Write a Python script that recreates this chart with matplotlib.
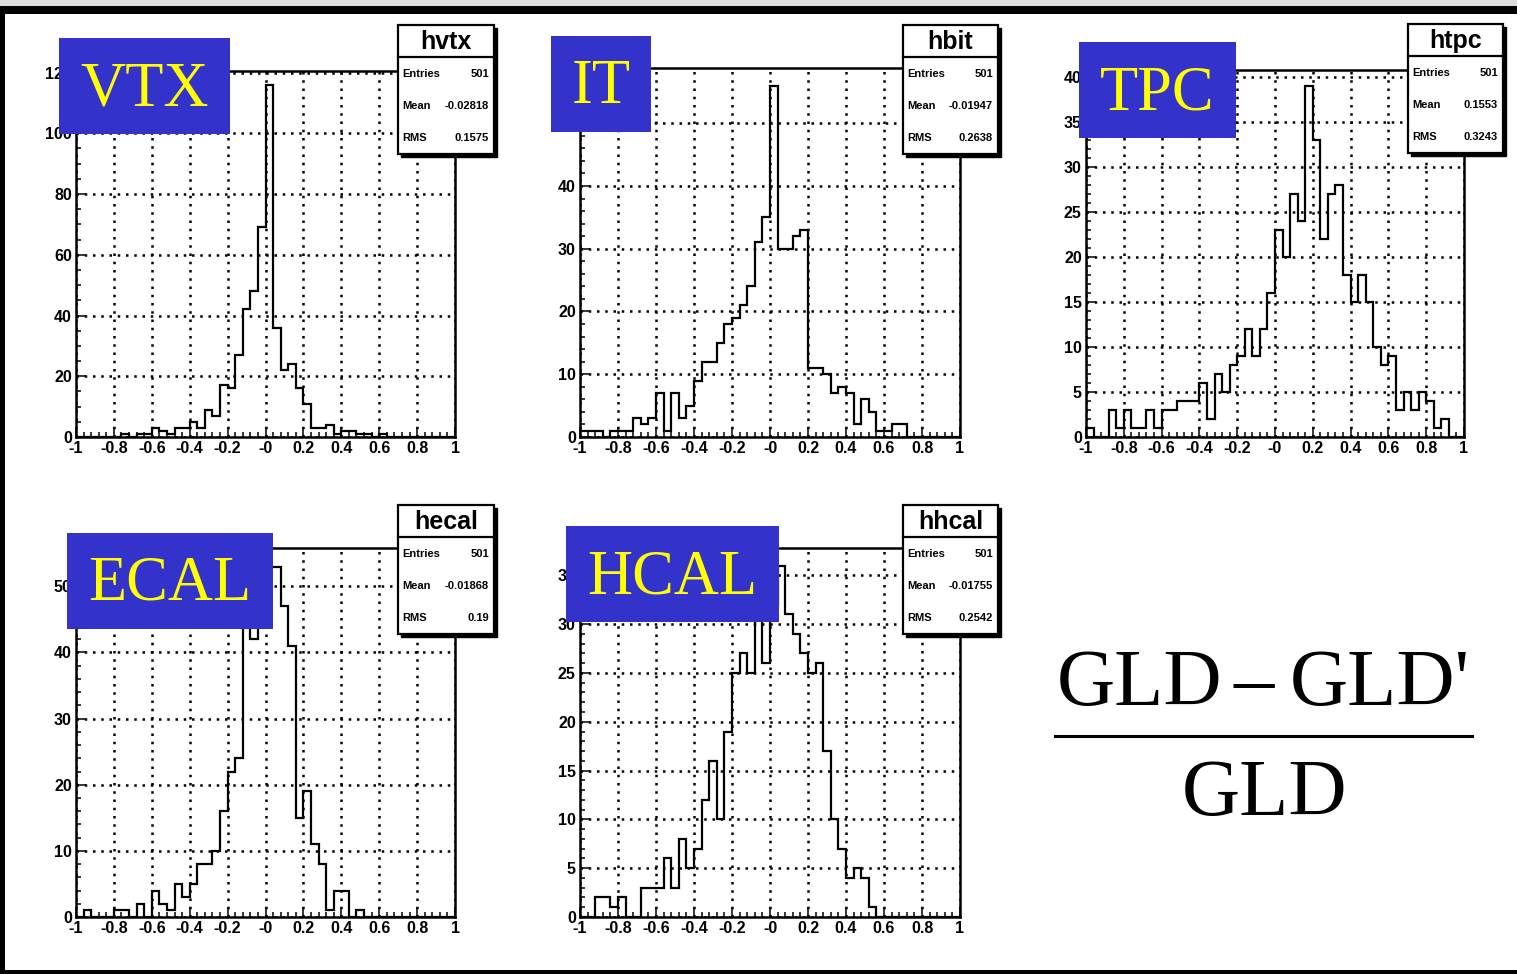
import matplotlib.pyplot as plt
from matplotlib.patches import Rectangle
from matplotlib.lines import Line2D
from matplotlib.ticker import MultipleLocator
import numpy as np

# histogram binning (ROOT TH1F, 50 bins on [-1, 1])
x_min, x_max, n_bins = -1.0, 1.0, 50

# bin contents
vtx = [0, 0, 0, 0, 0, 0, 1, 0, 1, 1, 3, 2, 1, 3, 3, 5, 3, 9, 7, 17,
       16, 27, 42, 48, 69, 116, 36, 22, 24, 16, 11, 3, 3, 4, 1, 2, 2, 1, 1, 0,
       1, 0, 0, 0, 0, 0, 0, 0, 0, 0]
it = [1, 1, 1, 0, 1, 1, 1, 3, 2, 3, 7, 1, 7, 3, 5, 9, 12, 12, 15, 18,
      19, 21, 24, 31, 35, 56, 30, 30, 32, 33, 11, 11, 10, 7, 8, 7, 2, 6, 4, 1,
      1, 2, 2, 0, 0, 0, 0, 0, 0, 0]
tpc = [1, 0, 0, 3, 1, 3, 1, 1, 3, 1, 3, 3, 4, 4, 4, 6, 2, 7, 5, 8,
       9, 12, 9, 12, 16, 23, 20, 27, 24, 39, 33, 22, 27, 28, 18, 15, 18, 15, 10, 8,
       9, 3, 5, 3, 5, 4, 1, 2, 0, 0]
ecal = [0, 1, 0, 0, 0, 1, 1, 0, 2, 0, 4, 2, 1, 5, 3, 5, 8, 8, 10, 16,
        22, 24, 47, 42, 45, 53, 53, 47, 41, 15, 19, 11, 8, 1, 4, 4, 0, 1, 0, 0,
        0, 0, 0, 0, 0, 0, 0, 0, 0, 0]
hcal = [0, 0, 2, 2, 1, 2, 0, 0, 3, 3, 3, 6, 3, 8, 5, 7, 12, 16, 10, 19,
        25, 27, 25, 33, 26, 32, 36, 31, 29, 27, 25, 26, 17, 10, 7, 4, 5, 4, 1, 0,
        0, 0, 0, 0, 0, 0, 0, 0, 0, 0]

hist_names = ['hvtx', 'hbit', 'htpc', 'hecal', 'hhcal']
detectors = ['VTX', 'IT', 'TPC', 'ECAL', 'HCAL']
entries = [501, 501, 501, 501, 501]
means = ['-0.02818', '-0.01947', '0.1553', '-0.01868', '-0.01755']
rmss = ['0.1575', '0.2638', '0.3243', '0.19', '0.2542']
y_max = [120.5, 58.8, 40.8, 55.8, 37.8]
y_major = [20, 10, 5, 10, 5]
y_minor = [5, 2, 1, 2, 1]
x_ticks = [-1, -0.8, -0.6, -0.4, -0.2, 0, 0.2, 0.4, 0.6, 0.8, 1]
x_labels = ['-1', '-0.8', '-0.6', '-0.4', '-0.2', '-0', '0.2', '0.4', '0.6', '0.8', '1']

W, H = 1517, 974
fig = plt.figure(figsize=(W / 100, H / 100), dpi=100)
fig.patch.set_facecolor('white')


def fx(x):
    return x / W


def fy(y):
    return 1 - y / H


# pixel boxes (left, top, right, bottom)
frames = [(76, 71, 455, 437), (580, 68, 960, 437), (1086, 70, 1464, 437),
          (76, 548, 455, 917), (580, 548, 960, 917)]
stat_boxes = [(398, 25, 494, 154), (903, 25, 998, 154), (1408, 24, 1503, 153),
              (398, 505, 494, 634), (903, 505, 998, 634)]
label_boxes = [(59, 38, 230, 134), (551, 36, 651, 132), (1079, 42, 1236, 138),
               (67, 533, 273, 629), (566, 526, 779, 622)]

edges = np.linspace(x_min, x_max, n_bins + 1)
tick_font = dict(family='Liberation Sans', weight='bold', size=11.5)

for i, counts in enumerate([vtx, it, tpc, ecal, hcal]):
    l, t, r, b = frames[i]
    ax = fig.add_axes([fx(l), fy(b), fx(r - l), (b - t) / H])
    ax.stairs(counts, edges, color='black', lw=1.6, baseline=None)
    ax.set_xlim(x_min, x_max)
    ax.set_ylim(0, y_max[i])
    ax.set_xticks(x_ticks)
    ax.set_xticklabels(x_labels, fontdict=tick_font)
    yt = np.arange(0, y_max[i] + 0.01, y_major[i])
    ax.set_yticks(yt)
    ax.set_yticklabels([f'{v:g}' for v in yt], fontdict=tick_font)
    ax.xaxis.set_minor_locator(MultipleLocator(0.04))
    ax.yaxis.set_minor_locator(MultipleLocator(y_minor[i]))
    ax.tick_params(which='both', direction='in', top=False, right=False,
                   width=1.1, color='black')
    ax.tick_params(which='major', length=7.5, pad=3)
    ax.tick_params(which='minor', length=3.8)
    ax.grid(True, which='major', color='black', linestyle=(0, (1, 2.3)), lw=1.8)
    ax.set_axisbelow(True)
    for s in ax.spines.values():
        s.set_linewidth(1.8)

    # ROOT stat box with shadow
    sl, st, sr, sb = stat_boxes[i]
    fig.add_artist(Rectangle((fx(sl + 3), fy(sb + 3)), fx(sr - sl), (sb - st) / H,
                             transform=fig.transFigure, facecolor='black',
                             edgecolor='black', zorder=4))
    fig.add_artist(Rectangle((fx(sl), fy(sb)), fx(sr - sl), (sb - st) / H,
                             transform=fig.transFigure, facecolor='white',
                             edgecolor='black', lw=1.6, zorder=5))
    fig.add_artist(Line2D([fx(sl), fx(sr)], [fy(st + 32)] * 2, color='black',
                          lw=1.6, transform=fig.transFigure, zorder=6))
    fig.text(fx((sl + sr) / 2), fy(st + 17), hist_names[i], ha='center', va='center',
             family='Liberation Sans', weight='bold', size=18, zorder=7)
    rows = [('Entries', str(entries[i])), ('Mean', means[i]), ('RMS', rmss[i])]
    for k, (lab, val) in enumerate(rows):
        yy = fy(st + 49 + 32 * k)
        fig.text(fx(sl + 4), yy, lab, ha='left', va='center',
                 family='Liberation Sans', weight='bold', size=8, zorder=7)
        fig.text(fx(sr - 5), yy, val, ha='right', va='center',
                 family='Liberation Sans', weight='bold', size=8, zorder=7)

    # detector label
    ll, lt, lr, lb = label_boxes[i]
    fig.add_artist(Rectangle((fx(ll), fy(lb)), fx(lr - ll), (lb - lt) / H,
                             transform=fig.transFigure, facecolor='#3333cc',
                             edgecolor='none', zorder=8))
    fig.text(fx((ll + lr) / 2), fy((lt + lb) / 2 + 4), detectors[i], ha='center',
             va='center', color='#ffff00', family='Liberation Serif', size=45,
             zorder=9)

# formula
serif = dict(family='Liberation Serif', size=58)
fig.text(fx(1222), fy(686), 'GLD', ha='right', va='center', **serif)
fig.text(fx(1254), fy(686), '\u2013', ha='center', va='center', **serif)
fig.text(fx(1290), fy(686), "GLD'", ha='left', va='center', **serif)
fig.add_artist(Line2D([fx(1055), fx(1472)], [fy(736)] * 2, color='black', lw=2.2,
                      transform=fig.transFigure))
fig.text(fx(1265), fy(796), 'GLD', ha='center', va='center', **serif)

# slide border
fig.add_artist(Rectangle((0, fy(6)), 1, 6 / H, transform=fig.transFigure,
                         facecolor='#dcdcdc', edgecolor='none', zorder=10))
fig.add_artist(Rectangle((0, fy(14)), 1, 8 / H, transform=fig.transFigure,
                         facecolor='black', edgecolor='none', zorder=10))
fig.add_artist(Rectangle((0, 0), 5 / W, fy(6), transform=fig.transFigure,
                         facecolor='black', edgecolor='none', zorder=10))
fig.add_artist(Rectangle((0, 0), 1, 4 / H, transform=fig.transFigure,
                         facecolor='black', edgecolor='none', zorder=10))

fig.savefig('out.png', dpi=100)
